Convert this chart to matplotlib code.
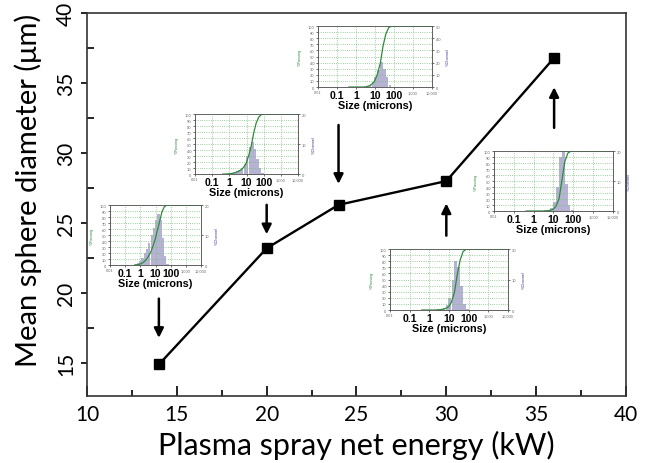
import numpy as np
import matplotlib.pyplot as plt
from matplotlib.ticker import MultipleLocator, NullLocator

plt.rcParams['font.family'] = ['Lato', 'DejaVu Sans']

# --- Hauptdaten ---
energy = [14, 20, 24, 30, 36]                 # kW
diameter = [14.9, 23.2, 26.3, 28.0, 36.8]     # µm

# --- Partikelgrößenverteilung: Kanalmitten [µm] und % Channel ---
sizes = [0.5, 0.7, 1.0, 1.4, 2.0, 2.8, 4.0, 5.6, 8.0, 11, 16, 22, 31, 44, 62, 88, 125]
ch_14 = [0.3, 0.8, 1.5, 2.5, 4, 5.5, 7.5, 10, 12.5, 15, 17, 15, 9, 3, 0.5, 0, 0]
ch_20 = [0, 0.1, 0.2, 0.4, 0.6, 0.9, 1.3, 2, 3.5, 6, 9, 10.7, 8.5, 5, 2, 0.5, 0]
ch_24 = [0, 0, 0, 0, 0, 0.3, 1, 2, 4, 8, 14, 20.7, 15, 8, 2, 0, 0]
ch_30 = [0, 0, 0, 0, 0.1, 0.2, 0.4, 0.8, 1.5, 4, 10, 16, 14, 8, 2, 0.3, 0]
ch_36 = [0, 0, 0, 0, 0, 0, 0.2, 0.5, 1, 3, 8, 18, 20, 9, 2, 0.3, 0]
channels = [ch_14, ch_20, ch_24, ch_30, ch_36]

size_ticks = [0.01, 0.1, 1, 10, 100, 1000, 10000]
size_labels = ['0.01', '0.1', '1', '10', '100', '1,000', '10,000']
big_labels = ['0.1', '1', '10', '100']

# --- Layout der Insets (Figure-Koordinaten) ---
inset_rect = [
    [0.1703, 0.4267, 0.1409, 0.1293],
    [0.3019, 0.6228, 0.1594, 0.1293],
    [0.4923, 0.8103, 0.1765, 0.1315],
    [0.6037, 0.3297, 0.1827, 0.1315],
    [0.7647, 0.5431, 0.1842, 0.1293],
]
inset_xmax = [400, 1500, 1e4, 1e4, 1e4]
inset_rmax = [20, 20, 50, 20, 20]
# Pfeile: (Start-y, Spitze-y) in Datenkoordinaten
arrows = [(19.8, 16.6), (26.5, 24.0), (32.2, 27.6), (23.9, 26.6), (31.6, 34.9)]

fig = plt.figure(figsize=(6.46, 4.64), dpi=100)
ax = fig.add_axes([0.1347, 0.1444, 0.8343, 0.8254])

ax.plot(energy, diameter, color='black', lw=1.7, marker='s', ms=6.5, zorder=3)
ax.set_xlim(10, 40)
ax.set_ylim(12.65, 40)
ax.xaxis.set_major_locator(MultipleLocator(5))
ax.xaxis.set_minor_locator(MultipleLocator(2.5))
ax.yaxis.set_major_locator(MultipleLocator(5))
ax.yaxis.set_minor_locator(MultipleLocator(2.5))
ax.tick_params(axis='x', which='major', direction='in', length=7, width=1.2, labelsize=15, pad=6)
ax.tick_params(axis='x', which='minor', direction='in', length=4, width=1.2)
ax.tick_params(axis='y', which='major', direction='out', length=4, width=1.2, labelsize=15, pad=4)
ax.tick_params(axis='y', which='minor', direction='in', length=5, width=1.2)
for lab in ax.get_yticklabels():
    lab.set_rotation(90)
    lab.set_va('center')
for s in ax.spines.values():
    s.set_linewidth(1.2)
    s.set_color('#333333')
ax.set_xlabel('Plasma spray net energy (kW)', fontsize=22, labelpad=4)
ax.set_ylabel('Mean sphere diameter (\u03bcm)', fontsize=21)
ax.yaxis.set_label_coords(-0.083, 0.54)

for x0, (y_from, y_to) in zip(energy, arrows):
    ax.annotate('', xy=(x0, y_to), xytext=(x0, y_from),
                arrowprops=dict(arrowstyle='-|>', color='black', lw=1.8, mutation_scale=14))

# --- Insets ---
sz = np.array(sizes)
lo = sz / 2**0.25
hi = sz * 2**0.25
for rect, ch, xmax, rmax in zip(inset_rect, channels, inset_xmax, inset_rmax):
    ch = np.array(ch, dtype=float)
    axb = fig.add_axes(rect)
    axb.set_xscale('log')
    axb.bar(lo, ch, width=(hi - lo) * 0.92, align='edge', color='#b5b2d4', edgecolor='none')
    axb.set_ylim(0, rmax)
    axb.set_xlim(0.01, xmax)

    cum = np.concatenate([[0], np.cumsum(ch) / ch.sum() * 100, [100]])
    xc = np.concatenate([[lo[0]], hi, [1e4]])
    axc = axb.twinx()
    axc.plot(xc, cum, color='#2e8b3a', lw=0.9)
    axc.set_ylim(0, 100)
    axc.yaxis.tick_left()
    axc.yaxis.set_label_position('left')
    axc.yaxis.set_major_locator(MultipleLocator(10))
    axc.tick_params(axis='y', labelsize=2.8, length=1.5, width=0.4, pad=1, labelcolor='#666666')
    axc.set_ylabel('%Passing', fontsize=2.8, color='#2e8b3a', labelpad=4, family='Liberation Sans')
    axc.grid(True, axis='y', color='#7cbf7c', ls=':', lw=0.6)

    # twinx setzt die Ticks des Basis-Axes zurueck -> danach rechts setzen
    axb.yaxis.tick_right()
    axb.yaxis.set_label_position('right')
    axb.yaxis.set_major_locator(MultipleLocator(10))
    axb.tick_params(axis='y', labelsize=2.8, length=1.5, width=0.4, pad=1, labelcolor='#666666')
    axb.set_ylabel('%Channel', fontsize=2.8, color='#3a3a9a', labelpad=4, family='Liberation Sans')
    axb.grid(True, axis='x', which='major', color='#7cbf7c', ls=':', lw=0.6)

    axb.set_xticks(size_ticks)
    axb.set_xticklabels(size_labels)
    axb.xaxis.set_minor_locator(NullLocator())
    axb.tick_params(axis='x', length=1.5, width=0.4, pad=1)
    for lab in axb.get_xticklabels():
        lab.set_family('Liberation Sans')
        if lab.get_text() in big_labels:
            lab.set_fontsize(7.5)
            lab.set_fontweight('bold')
        else:
            lab.set_fontsize(2.8)
            lab.set_color('#666666')
    axb.set_xlabel('Size (microns)', fontsize=7.8, fontweight='bold',
                   family='Liberation Sans', labelpad=0)
    for a in (axb, axc):
        for s in a.spines.values():
            s.set_linewidth(0.5)
            s.set_color('#555555')

fig.savefig('out.png', dpi=100)
